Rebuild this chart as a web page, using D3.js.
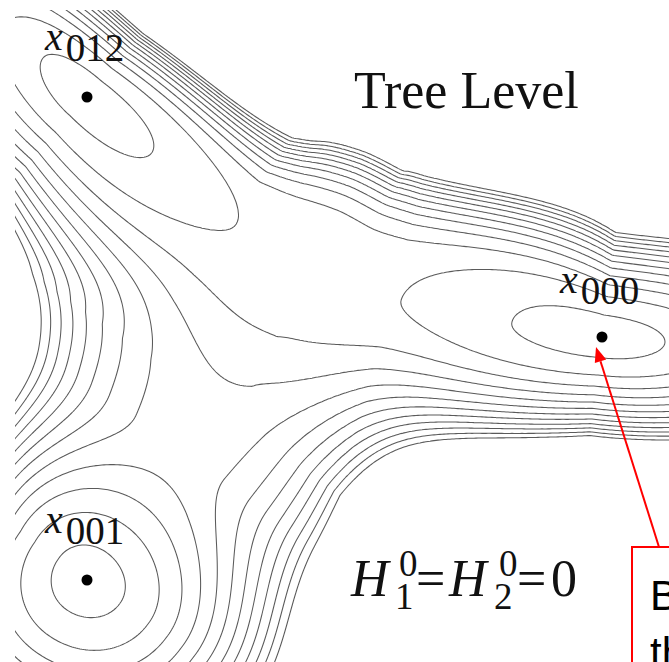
<!DOCTYPE html>
<html><head><meta charset="utf-8">
<script src="https://cdn.jsdelivr.net/npm/d3@7"></script>
<style>html,body{margin:0;padding:0;background:#fff}svg{display:block}</style>
</head><body>
<svg id="chart" width="669" height="662"></svg>
<script>
// Tree-level potential in the (phi1, phi2) plane, described by its valley floors.
// Valley A runs x012 -> saddle -> x000; valley B runs x001 -> saddle -> into A.
// Per node: position, floor value at the key points (null = in between),
// wall width and quartic stiffness on the upper (Up) and lower (Dn) side.
const aU     = [-1.292, -0.852, -0.272, 0.052, 0.372, 1.208, 1.84];
const aV     = [1.38, 0.972, 0.48, 0.312, 0.168, 0.012, -0.02];
const aFloor = [null, 0.6, null, 2.5, null, 0.6, null];
const aOut   = [null, 0.372, null, null, null, 0.4, null];
const aSat   = [1, 1, 1, 1, 1, 1, 1];
const aWUp   = [0.14, 0.14, 0.248, 0.6, 0.34, 0.14, 0.14];
const aQUp   = [0.22, 0.22, 0.22, 0.26, 0.288, 0.34, 0.34];
const aWDn   = [0.16, 0.16, 0.232, 0.256, 0.192, 0.132, 0.132];
const aQDn   = [0.8, 0.8, 0.6, 0.48, 0.44, 0.32, 0.32];

const bU     = [-1.206, -0.852, -0.34, -0.06];
const bV     = [-1.444, -0.96, -0.26, 0.14];
const bFloor = [null, 0.6, 4.5, 4.0];
const bOut   = [null, 0.228, null, null];
const bSat   = [1, 0.75, 1, 1];
const bWUp   = [0.228, 0.228, 0.32, 0.28];
const bQUp   = [0.44, 0.44, 0.52, 0.4];
const bWDn   = [0.256, 0.256, 0.288, 0.28];
const bQDn   = [0.8, 0.8, 0.44, 0.4];

// minima: which valley node, and the label subscript
const minValley = ["A", "A", "B"];
const minNode   = [1, 5, 1];
const minLabel  = ["012", "000", "001"];

// contour levels drawn
const levels = d3.range(1, 13);

const svg = d3.select("#chart");
const x = d3.scaleLinear().domain([-1.2, 1.476]).range([0, 669]);
const y = d3.scaleLinear().domain([1.36, -1.288]).range([0, 662]);

// Build a smooth valley from its nodes (Catmull-Rom through the nodes)
function buildValley(U, V, floor, out, sat, wUp, qUp, wDn, qDn) {
  const n = U.length, per = 24, pts = [], nodeS = [];
  const P = i => [U[Math.max(0, Math.min(n - 1, i))], V[Math.max(0, Math.min(n - 1, i))]];
  for (let i = 0; i < n - 1; i++) {
    const p0 = P(i - 1), p1 = P(i), p2 = P(i + 1), p3 = P(i + 2);
    for (let k = 0; k < per; k++) {
      const t = k / per, t2 = t * t, t3 = t2 * t;
      pts.push([0, 1].map(c => 0.5 * (2 * p1[c] + (-p0[c] + p2[c]) * t +
        (2 * p0[c] - 5 * p1[c] + 4 * p2[c] - p3[c]) * t2 +
        (-p0[c] + 3 * p1[c] - 3 * p2[c] + p3[c]) * t3)));
    }
  }
  pts.push([U[n - 1], V[n - 1]]);
  const cum = [0];
  for (let i = 1; i < pts.length; i++)
    cum.push(cum[i - 1] + Math.hypot(pts[i][0] - pts[i - 1][0], pts[i][1] - pts[i - 1][1]));
  for (let i = 0; i < n; i++) nodeS.push(cum[i * per]);
  const keys = d3.range(n).filter(i => floor[i] != null);
  const lerpNode = (arr, s) => {
    if (s <= nodeS[0]) return arr[0];
    for (let i = 0; i < n - 1; i++)
      if (s <= nodeS[i + 1]) return arr[i] + (arr[i + 1] - arr[i]) * (s - nodeS[i]) / (nodeS[i + 1] - nodeS[i]);
    return arr[n - 1];
  };
  const floorAt = s => {
    const k0 = keys[0], k1 = keys[keys.length - 1];
    if (s <= nodeS[k0]) return floor[k0] + (out[k0] ? ((nodeS[k0] - s) / out[k0]) ** 2 : 0);
    if (s >= nodeS[k1]) return floor[k1] + (out[k1] ? ((s - nodeS[k1]) / out[k1]) ** 2 : 0);
    for (let j = 0; j < keys.length - 1; j++) {
      const a = keys[j], b = keys[j + 1];
      if (s <= nodeS[b]) {
        const t = (s - nodeS[a]) / (nodeS[b] - nodeS[a]);
        const e = Math.sin(Math.PI / 2 * Math.min(t / sat[a], 1)) ** 2;
        return floor[a] + (floor[b] - floor[a]) * e;
      }
    }
    return floor[k1];
  };
  return function (u, v) {
    let best = Infinity, bs = 0, side = 1;
    for (let i = 0; i < pts.length - 1; i++) {
      const ax = pts[i][0], ay = pts[i][1];
      const dx = pts[i + 1][0] - ax, dy = pts[i + 1][1] - ay;
      const l2 = dx * dx + dy * dy;
      let t = ((u - ax) * dx + (v - ay) * dy) / l2;
      t = Math.max(0, Math.min(1, t));
      const cx = ax + t * dx, cy = ay + t * dy;
      const d2 = (u - cx) ** 2 + (v - cy) ** 2;
      if (d2 < best) {
        best = d2; bs = cum[i] + t * Math.sqrt(l2);
        side = dx * (v - ay) - dy * (u - ax) >= 0 ? 1 : -1;
      }
    }
    const d = Math.sqrt(best);
    const w = side > 0 ? lerpNode(wUp, bs) : lerpNode(wDn, bs);
    const q = side > 0 ? lerpNode(qUp, bs) : lerpNode(qDn, bs);
    return floorAt(bs) + (d / w) ** 2 + (d / q) ** 4;
  };
}

const valleyA = buildValley(aU, aV, aFloor, aOut, aSat, aWUp, aQUp, aWDn, aQDn);
const valleyB = buildValley(bU, bV, bFloor, bOut, bSat, bWUp, bQUp, bWDn, bQDn);
const pBlend = 2;
function potential(u, v) {
  const a = valleyA(u, v), b = valleyB(u, v);
  return Math.pow(Math.pow(a, -pBlend) + Math.pow(b, -pBlend), -1 / pBlend);
}

// sample the field on a pixel grid a little larger than the picture
const step = 2, gx0 = -12, gy0 = -12;
const nx = Math.ceil((669 + 24) / step), ny = Math.ceil((662 + 24) / step);
const grid = new Float64Array(nx * ny);
for (let j = 0; j < ny; j++) {
  const v = y.invert(gy0 + j * step);
  for (let i = 0; i < nx; i++) grid[j * nx + i] = potential(x.invert(gx0 + i * step), v);
}
const contours = d3.contours().size([nx, ny]).thresholds(levels)(grid);
const proj = d3.geoTransform({
  point(px, py) { this.stream.point(gx0 + (px - 0.5) * step, gy0 + (py - 0.5) * step); }
});
const path = d3.geoPath(proj);

svg.append("rect").attr("width", 669).attr("height", 662).attr("fill", "#fff");
svg.append("clipPath").attr("id", "plotclip")
  .append("rect").attr("x", 15).attr("y", 10).attr("width", 700).attr("height", 700);

svg.append("g").attr("clip-path", "url(#plotclip)")
  .selectAll("path").data(contours).join("path")
  .attr("d", path)
  .attr("fill", "none")
  .attr("stroke", "#5a5a5a")
  .attr("stroke-width", 1.05)
  .attr("stroke-linejoin", "round");

// minima
const minPos = minNode.map((ni, k) => minValley[k] === "A" ? [aU[ni], aV[ni]] : [bU[ni], bV[ni]]);
svg.append("g").selectAll("circle").data(minPos).join("circle")
  .attr("cx", d => x(d[0])).attr("cy", d => y(d[1])).attr("r", 5.5)
  .attr("fill", "#000");

const serif = "'Liberation Serif','Times New Roman',serif";
const labelOffsets = [[-42, -47], [-42, -44], [-42, -47]];
minPos.forEach((p, k) => {
  const t = svg.append("text")
    .attr("x", x(p[0]) + labelOffsets[k][0]).attr("y", y(p[1]) + labelOffsets[k][1])
    .attr("font-family", serif).attr("font-size", 40).attr("fill", "#111");
  t.append("tspan").attr("font-style", "italic").text("x");
  t.append("tspan").attr("dx", 3).attr("dy", 11).attr("font-size", 39).text(minLabel[k]);
});

svg.append("text").attr("x", 354).attr("y", 108)
  .attr("font-family", serif).attr("font-size", 52).attr("fill", "#111")
  .text("Tree Level");

// H_1^0 = H_2^0 = 0
const eq = svg.append("text").attr("x", 351).attr("y", 596)
  .attr("font-family", serif).attr("font-size", 52).attr("fill", "#111");
eq.append("tspan").attr("font-style", "italic").text("H");
eq.append("tspan").attr("x", 399).attr("y", 576).attr("font-size", 37).text("0");
eq.append("tspan").attr("x", 395).attr("y", 609).attr("font-size", 37).text("1");
eq.append("tspan").attr("x", 416).attr("y", 596).text("=");
eq.append("tspan").attr("x", 449).attr("y", 596).attr("font-style", "italic").text("H");
eq.append("tspan").attr("x", 499).attr("y", 576).attr("font-size", 37).text("0");
eq.append("tspan").attr("x", 494).attr("y", 609).attr("font-size", 37).text("2");
eq.append("tspan").attr("x", 517).attr("y", 596).text("=");
eq.append("tspan").attr("x", 551).attr("y", 596).text("0");

// callout pointing at x000
const red = "#ff0000";
const tipX = x(minPos[1][0]) - 6, tipY = y(minPos[1][1]) + 10;
const boxX = 632, boxY = 547;
const baseX = boxX + 27, baseY = boxY;
const ang = Math.atan2(tipY - baseY, tipX - baseX);
const headLen = 15, headHalf = 6;
const hbx = tipX - headLen * Math.cos(ang), hby = tipY - headLen * Math.sin(ang);
svg.append("line").attr("x1", baseX).attr("y1", baseY).attr("x2", hbx).attr("y2", hby)
  .attr("stroke", red).attr("stroke-width", 2);
svg.append("path")
  .attr("d", `M${tipX},${tipY}L${hbx + headHalf * Math.sin(ang)},${hby - headHalf * Math.cos(ang)}L${hbx - headHalf * Math.sin(ang)},${hby + headHalf * Math.cos(ang)}Z`)
  .attr("fill", red);
svg.append("rect").attr("x", boxX).attr("y", boxY).attr("width", 80).attr("height", 160)
  .attr("fill", "#fff").attr("stroke", red).attr("stroke-width", 2);
const note = svg.append("text").attr("font-family", "'Liberation Sans',Arial,sans-serif")
  .attr("font-size", 42).attr("fill", "#000");
note.append("tspan").attr("x", 650).attr("y", 610).text("Bottom of");
note.append("tspan").attr("x", 650).attr("y", 667).text("the valley");
</script>
</body></html>
